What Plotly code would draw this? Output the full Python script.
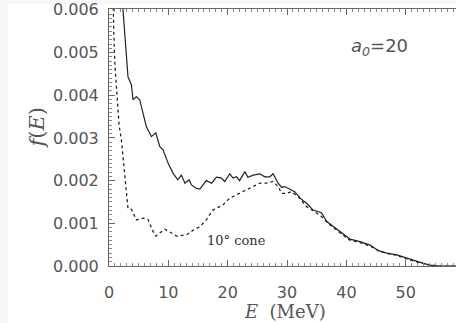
import plotly.graph_objects as go

# Electron energy spectrum f(E), all electrons (solid) and those inside a 10 degree cone (dotted)
energy_all = [1.5, 2.0, 2.36, 2.82, 3.2, 3.78, 4.05, 4.62, 5.18, 6.3, 7.15, 7.88, 8.55, 9.1,
              9.95, 10.8, 11.6, 12.2, 12.8, 13.5, 13.9, 14.7, 15.3, 16.4, 17.3, 18.1, 18.95,
              19.5, 20.35, 20.9, 21.5, 22.0, 22.9, 23.4, 24.3, 25.4, 26.25, 27.1, 27.65, 28.5,
              29.1, 29.6, 30.5, 31.3, 32.2, 33.3, 34.4, 35.8, 36.7, 37.8, 38.9, 40.6, 42.3,
              44.0, 45.4, 46.8, 48.5, 50.2, 51.8, 53.0, 54.1, 55.8, 58.5]
f_all = [0.0095, 0.0069, 0.0060, 0.00506, 0.00443, 0.00424, 0.00389, 0.00397, 0.00389,
         0.00326, 0.00303, 0.00312, 0.00280, 0.00272, 0.00241, 0.00217, 0.00202, 0.00213,
         0.00194, 0.00202, 0.00190, 0.00182, 0.00180, 0.00200, 0.00194, 0.00208, 0.00206,
         0.00198, 0.00216, 0.00206, 0.00209, 0.00200, 0.00221, 0.00208, 0.00213, 0.00216,
         0.00209, 0.00209, 0.00216, 0.00194, 0.00184, 0.00186, 0.00180, 0.00174, 0.00159,
         0.00147, 0.00131, 0.00125, 0.00104, 0.00092, 0.00080, 0.00063, 0.00057, 0.00049,
         0.00036, 0.00030, 0.00026, 0.00018, 0.00010, 0.00006, 0.00002, 0.0, 0.0]

energy_cone = [0.3, 0.6, 0.8, 1.0, 1.3, 1.7, 2.09, 2.48, 2.82, 3.2, 3.78, 4.62, 5.73, 6.58,
               7.32, 7.88, 8.55, 9.4, 10.2, 11.4, 13.05, 14.2, 15.3, 16.4, 17.5, 19.2, 20.35,
               22.0, 23.7, 25.4, 26.5, 27.65, 28.5, 29.1, 29.9, 30.75, 31.9, 33.3, 34.7, 35.8,
               36.9, 37.8, 38.9, 40.5, 42.0, 44.0, 45.5, 47.0, 48.5, 50.0, 52.0, 54.0, 56.0, 58.5]
f_cone = [0.0090, 0.0066, 0.0055, 0.0047, 0.0040, 0.0033, 0.00295, 0.00241, 0.00178, 0.00135,
          0.00133, 0.00108, 0.00112, 0.00109, 0.00084, 0.00070, 0.00077, 0.00086, 0.00080,
          0.00070, 0.00073, 0.00084, 0.00092, 0.00108, 0.00131, 0.00143, 0.00159, 0.00170,
          0.00182, 0.00194, 0.00194, 0.00198, 0.00186, 0.00170, 0.00170, 0.00174, 0.00162,
          0.00139, 0.00127, 0.00116, 0.00100, 0.00090, 0.00077, 0.00061, 0.00056, 0.00047,
          0.00035, 0.00029, 0.00025, 0.00017, 0.00009, 0.00002, 0.0, 0.0]

x_ticks = [0, 10, 20, 30, 40, 50]
y_ticks = [0.000, 0.001, 0.002, 0.003, 0.004, 0.005, 0.006]
y_ticklabels = ["0.000", "0.001", "0.002", "0.003", "0.004", "0.005", "0.006"]

ink = "#222222"
label_grey = "#555555"

fig = go.Figure()
fig.add_trace(go.Scatter(x=energy_all, y=f_all, mode="lines",
                         line=dict(color=ink, width=1.2), showlegend=False))
fig.add_trace(go.Scatter(x=energy_cone, y=f_cone, mode="lines",
                         line=dict(color=ink, width=1.3, dash="dot"), showlegend=False))

axis_common = dict(
    showgrid=False, zeroline=False, showline=True, linecolor="#666666", linewidth=1,
    ticks="inside", tickcolor="#666666", tickwidth=1,
    tickfont=dict(family="DejaVu Sans", size=16, color=label_grey),
)

fig.update_xaxes(
    range=[0, 58.47], tickvals=x_ticks, ticklen=6, mirror="allticks",
    minor=dict(dtick=1, ticklen=3, ticks="inside", tickcolor="#888888"),
    ticklabelstandoff=12, **axis_common,
)
fig.update_yaxes(
    range=[0, 0.00602], tickvals=y_ticks, ticktext=y_ticklabels, ticklen=6,
    minor=dict(dtick=0.0001, ticklen=3, ticks="inside", tickcolor="#888888"),
    ticklabelstandoff=6, **axis_common,
)

# axis titles
fig.add_annotation(text="<i>E</i>  (MeV)", xref="x", yref="paper", x=29.7, y=0,
                   yshift=-45, showarrow=False, yanchor="middle",
                   font=dict(family="DejaVu Serif", size=18, color=label_grey))
fig.add_annotation(text="<i>f</i>(<i>E</i>)", xref="paper", yref="paper", x=0, y=0.5,
                   xshift=-87, yshift=10, textangle=-90, showarrow=False,
                   font=dict(family="DejaVu Serif", size=21, color=label_grey))

# in-plot labels
fig.add_annotation(text="<i>a</i><sub><i>0</i></sub>=20", x=45.6, y=0.00513,
                   showarrow=False, font=dict(family="DejaVu Sans", size=18, color=label_grey))
fig.add_annotation(text="10° cone", x=21.5, y=0.000586, showarrow=False,
                   font=dict(family="DejaVu Serif", size=13, color="#333333"))

# light grey border strips at the top and left edge of the page
fig.add_shape(type="rect", xref="paper", yref="paper", x0=-109 / 347, x1=-101 / 347,
              y0=-57 / 257, y1=1 + 9 / 257, fillcolor="#f7f7f7", line_width=0, layer="below")
fig.add_shape(type="rect", xref="paper", yref="paper", x0=-109 / 347, x1=1.0,
              y0=1 + 5 / 257, y1=1 + 9 / 257, fillcolor="#f7f7f7", line_width=0, layer="below")

fig.update_layout(
    width=456, height=323,
    margin=dict(l=109, r=0, t=9, b=57),
    paper_bgcolor="white", plot_bgcolor="white",
)

fig.write_html("out.html")
